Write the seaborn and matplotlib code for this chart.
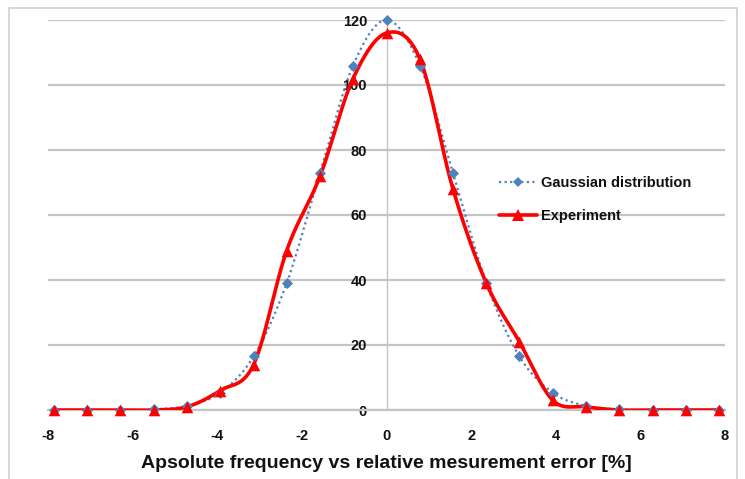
import numpy as np
import pandas as pd
import matplotlib
matplotlib.use("Agg")
import matplotlib.pyplot as plt
from matplotlib.lines import Line2D
from matplotlib.patches import Rectangle
import seaborn as sns

# ---- data ----
x_err = [-7.86, -7.07, -6.29, -5.50, -4.71, -3.93, -3.14, -2.36, -1.57, -0.79, 0.0,
         0.79, 1.57, 2.36, 3.14, 3.93, 4.71, 5.50, 6.29, 7.07, 7.86]
gaussian = [0, 0, 0, 0.2, 1.3, 5.3, 16.5, 39, 73, 106, 120,
            106, 73, 39, 16.5, 5.3, 1.3, 0.2, 0, 0, 0]
experiment = [0, 0, 0, 0, 1, 6, 14, 49, 72, 102, 116,
              108, 68, 39, 21, 3, 1, 0, 0, 0, 0]
x_ticks = [-8, -6, -4, -2, 0, 2, 4, 6, 8]
y_ticks = [0, 20, 40, 60, 80, 100, 120]
series_names = ["Gaussian distribution", "Experiment"]
x_label = "Apsolute frequency vs relative mesurement error [%]"


def smooth(xs, ys, n=24):
    """Excel-style smoothed line (Catmull-Rom Bezier) through the points."""
    p = np.column_stack([xs, ys]).astype(float)
    out = [p[0]]
    for i in range(len(p) - 1):
        p0 = p[i - 1] if i > 0 else p[i]
        p3 = p[i + 2] if i + 2 < len(p) else p[i + 1]
        c1 = p[i] + (p[i + 1] - p0) / 6.0
        c2 = p[i + 1] - (p3 - p[i]) / 6.0
        t = np.linspace(0, 1, n)[1:, None]
        seg = ((1 - t) ** 3) * p[i] + 3 * ((1 - t) ** 2) * t * c1 \
            + 3 * (1 - t) * t ** 2 * c2 + t ** 3 * p[i + 1]
        out.extend(seg)
    out = np.array(out)
    return out[:, 0], out[:, 1]


sns.set_theme(style="white")
plt.rcParams["font.family"] = ["Liberation Sans", "DejaVu Sans"]

BLUE = "#4F81BD"
RED = "#FF0000"
GRID = "#C4C4C4"
TXT = "#111111"

fig = plt.figure(figsize=(7.45, 4.79), dpi=100)
ax = fig.add_axes([48 / 745, 1 - 410 / 479, (725 - 48) / 745, (410 - 20) / 479])

# chart border
fig.add_artist(Rectangle((9 / 745, -0.01), (737 - 9) / 745, 1.01 - 8 / 479,
                         transform=fig.transFigure, fill=False,
                         edgecolor="#D0D0D0", lw=1.2))

gx, gy = smooth(x_err, gaussian)
ex, ey = smooth(x_err, experiment)
df_g = pd.DataFrame({"x": gx, "y": gy})
df_e = pd.DataFrame({"x": ex, "y": ey})

sns.lineplot(data=df_g, x="x", y="y", ax=ax, sort=False, color=BLUE,
             lw=1.6, linestyle=(0, (1, 1.5)), zorder=3)
sns.lineplot(data=df_e, x="x", y="y", ax=ax, sort=False, color=RED,
             lw=2.6, zorder=4)

pts = pd.DataFrame({"x": x_err, "g": gaussian, "e": experiment})
sns.scatterplot(data=pts, x="x", y="g", ax=ax, marker="D", s=32, color=BLUE,
                edgecolor=BLUE, linewidth=0, zorder=5, clip_on=False)
sns.scatterplot(data=pts, x="x", y="e", ax=ax, marker="^", s=70, color=RED,
                edgecolor=RED, linewidth=0, zorder=6, clip_on=False)

# spines first (moving a spine resets the ticks)
for s in ["top", "right"]:
    ax.spines[s].set_visible(False)
ax.spines["left"].set_position(("data", 0))
ax.spines["left"].set_color(GRID)
ax.spines["left"].set_linewidth(1.0)
ax.spines["bottom"].set_color(GRID)
ax.spines["bottom"].set_linewidth(1.6)

ax.set_xlim(-8, 8)
ax.set_ylim(0, 120)
ax.set_xticks(x_ticks)
ax.set_yticks(y_ticks)
ax.set_xticklabels([str(t) for t in x_ticks], fontsize=10.5, fontweight="bold", color=TXT)
ax.set_yticklabels([str(t) for t in y_ticks], fontsize=10.5, fontweight="bold", color=TXT)
ax.set_xlabel(x_label, fontsize=14, fontweight="bold", color=TXT, labelpad=8)
ax.set_ylabel("")

ax.yaxis.grid(True, color=GRID, lw=1.6)
ax.xaxis.grid(False)
ax.set_axisbelow(True)

ax.tick_params(axis="x", direction="out", length=4, width=1, color=GRID, pad=10)
ax.tick_params(axis="y", direction="out", length=0, pad=14)

handles = [
    Line2D([0], [0], color=BLUE, lw=1.6, linestyle=(0, (1, 1.5)), marker="D",
           markersize=5, markeredgewidth=0),
    Line2D([0], [0], color=RED, lw=2.6, marker="^", markersize=8, markeredgewidth=0),
]
leg = ax.legend(handles, series_names, loc="upper left",
                bbox_to_anchor=(486 / 745, 1 - 163 / 479), bbox_transform=fig.transFigure,
                frameon=False, handlelength=2.6, handletextpad=0.3, labelspacing=1.3,
                prop={"weight": "bold", "size": 10.5})
for t in leg.get_texts():
    t.set_color(TXT)

fig.savefig("out.png", dpi=100)
